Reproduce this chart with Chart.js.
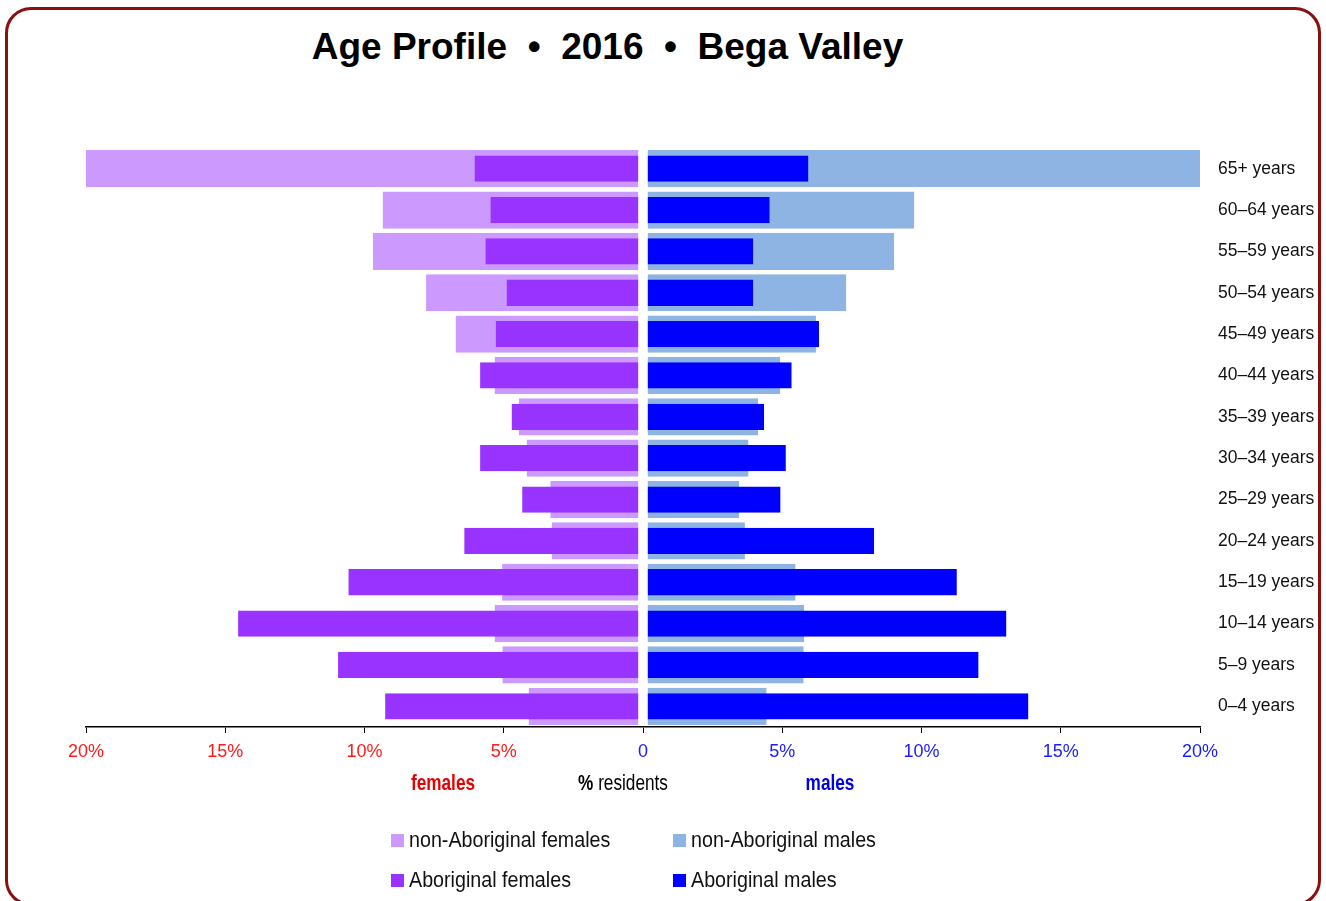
<!DOCTYPE html>
<html>
<head>
<meta charset="utf-8">
<title>Age Profile • 2016 • Bega Valley</title>
<script src="https://cdn.jsdelivr.net/npm/chart.js@4.4.1/dist/chart.umd.min.js"></script>
<style>
  html, body { margin: 0; padding: 0; background: #fff; }
  body {
    width: 1326px; height: 901px; position: relative; overflow: hidden;
    font-family: 'Liberation Sans Narrow', 'Arial Narrow', 'Liberation Sans', Arial, sans-serif;
    color: #111;
  }
  .frame {
    position: absolute; left: 5px; top: 7px; width: 1310px; height: 893px;
    border: 3px solid #8b0f0f; border-radius: 26px;
  }
  .title {
    position: absolute; left: 0; top: 27px; width: 1215px; text-align: center;
    font-family: 'Liberation Sans', Arial, sans-serif; font-weight: bold;
    font-size: 37px; line-height: 40px; color: #000; white-space: pre;
  }
  .chart-container { position: absolute; left: 0; top: 0; width: 1326px; height: 901px; }
  .axis-note {
    position: absolute; top: 771px; font-size: 21.5px; line-height: 24px;
    transform: translateX(-50%) scaleX(0.8); white-space: nowrap;
  }
  .legend-item {
    position: absolute; font-size: 22px; line-height: 24px; white-space: nowrap;
    display: flex; align-items: center;
  }
  .legend-item .box { width: 13px; height: 13px; margin-right: 5px; flex: none; }
  .legend-item .txt { display: inline-block; transform: scaleX(0.895); transform-origin: left center; }
</style>
</head>
<body>
<div class="frame"></div>
<div class="title">Age Profile  •  2016  •  Bega Valley</div>
<div class="chart-container"><canvas id="pyramid"></canvas></div>
<div class="axis-note" style="left:443px;color:#e60000;font-weight:bold">females</div>
<div class="axis-note" style="left:623px;color:#000"><b>%</b> residents</div>
<div class="axis-note" style="left:830px;color:#0000e6;font-weight:bold">males</div>
<div id="legend"></div>

<script>
// age groups, top of the pyramid first
const ageGroups = [
  '65+ years', '60–64 years', '55–59 years', '50–54 years', '45–49 years',
  '40–44 years', '35–39 years', '30–34 years', '25–29 years', '20–24 years',
  '15–19 years', '10–14 years', '5–9 years', '0–4 years'
];

// % of residents in each group
const nonAborigFemales = [20.0, 9.35, 9.70, 7.79, 6.73, 5.33, 4.46, 4.18, 3.33, 3.28, 5.06, 5.33, 5.05, 4.11];
const aborigFemales    = [6.05, 5.48, 5.66, 4.90, 5.29, 5.85, 4.72, 5.85, 4.34, 6.42, 10.58, 14.54, 10.95, 9.26];
const nonAborigMales   = [20.0, 9.74, 9.02, 7.30, 6.21, 4.93, 4.13, 3.79, 3.45, 3.66, 5.48, 5.79, 5.77, 4.44];
const aborigMales      = [5.94, 4.55, 3.96, 3.96, 6.32, 5.34, 4.35, 5.13, 4.94, 8.30, 11.27, 13.05, 12.05, 13.84];

const xTicks = [-20, -15, -10, -5, 0, 5, 10, 15, 20];

const fontStack = "'Liberation Sans Narrow', 'Arial Narrow', 'Liberation Sans', Arial, sans-serif";
const halfGap = 4.3; // white strip either side of the centre line

function barSet(label, values, color, sign, thickness, order) {
  return {
    label: label,
    data: values.map(v => sign * v),
    backgroundColor: color,
    borderColor: '#ffffff',
    borderSkipped: false,
    borderWidth: sign < 0 ? { right: halfGap } : { left: halfGap },
    barPercentage: thickness,
    categoryPercentage: 1,
    grouped: false,
    order: order,
  };
}

const datasets = [
  barSet('non-Aboriginal females', nonAborigFemales, '#cc99ff', -1, 0.9, 2),
  barSet('non-Aboriginal males', nonAborigMales, '#8db4e2', 1, 0.9, 2),
  barSet('Aboriginal females', aborigFemales, '#9933ff', -1, 0.635, 1),
  barSet('Aboriginal males', aborigMales, '#0000ff', 1, 0.635, 1),
];

const ctx = document.getElementById('pyramid').getContext('2d');

new Chart(ctx, {
  type: 'bar',
  data: { labels: ageGroups, datasets: datasets },
  options: {
    indexAxis: 'y',
    responsive: true,
    maintainAspectRatio: false,
    animation: false,
    layout: { padding: { left: 86, top: 148, right: 0, bottom: 114 } },
    plugins: {
      legend: { display: false },
      title: { display: false },
      tooltip: { enabled: false },
    },
    scales: {
      x: {
        type: 'linear',
        min: -20,
        max: 20,
        afterBuildTicks: s => { s.ticks = xTicks.map(v => ({ value: v })); },
        afterFit: s => { s.height = 60; },
        ticks: {
          autoSkip: false,
          maxRotation: 0,
          padding: 8,
          font: { family: fontStack, size: 18 },
          color: c => (c.tick && c.tick.value < 0 ? '#ff1a1a' : '#1a1aff'),
          callback: v => (v === 0 ? '0' : Math.abs(v) + '%'),
        },
        grid: { drawOnChartArea: false, drawTicks: true, tickLength: 6, color: '#000' },
        border: { color: '#000', width: 1.5 },
      },
      y: {
        type: 'category',
        position: 'right',
        afterFit: s => { s.width = 126; },
        grid: { display: false, drawTicks: false },
        border: { display: false },
        ticks: { color: '#111', font: { family: fontStack, size: 17.5 }, padding: 18 },
      },
    },
  },
});

// legend laid out as a 2 x 2 grid under the axis
const legendCols = [391, 673];
const legendRows = [828, 868];
const legend = document.getElementById('legend');
datasets.forEach((ds, i) => {
  const item = document.createElement('div');
  item.className = 'legend-item';
  item.style.left = legendCols[i % 2] + 'px';
  item.style.top = legendRows[Math.floor(i / 2)] + 'px';
  item.innerHTML = '<span class="box" style="background:' + ds.backgroundColor + '"></span>' +
    '<span class="txt">' + ds.label + '</span>';
  legend.appendChild(item);
});
</script>
</body>
</html>
